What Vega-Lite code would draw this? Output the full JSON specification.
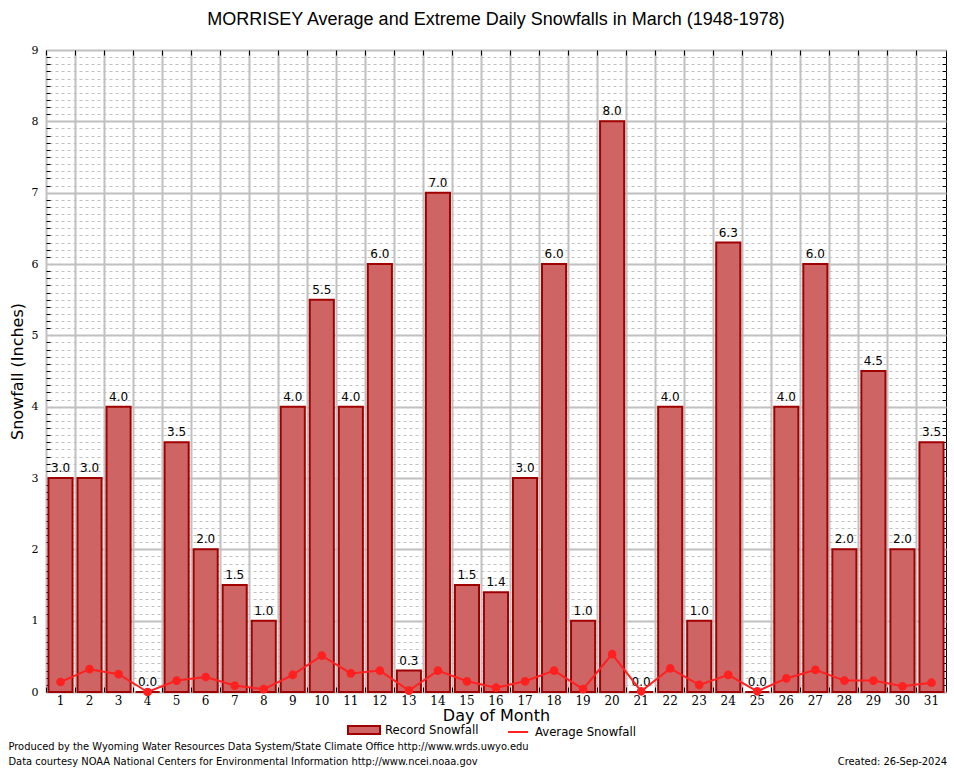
{
  "$schema": "https://vega.github.io/schema/vega-lite/v6.json",
  "padding": {"left": 8, "top": 10, "right": 8, "bottom": 0},
  "background": "white",
  "config": {
    "font": "DejaVu Sans",
    "view": {"stroke": "black", "strokeWidth": 1},
    "concat": {"spacing": 0},
    "title": {"lineHeight": 15},
    "legend": {"layout": {"bottom": {"anchor": "middle", "direction": "horizontal", "margin": 28}}}
  },
  "title": {"text": "Created: 26-Sep-2024", "orient": "bottom", "anchor": "end", "fontSize": 11, "fontWeight": "normal", "font": "DejaVu Sans Condensed", "color": "black", "dy": -11, "offset": 0},
  "resolve": {"scale": {"fill": "independent", "stroke": "independent"}},
  "vconcat": [
    {
      "title": {"text": ["Produced by the Wyoming Water Resources Data System/State Climate Office http://www.wrds.uwyo.edu", "Data courtesy NOAA National Centers for Environmental Information http://www.ncei.noaa.gov"], "orient": "bottom", "anchor": "start", "fontSize": 11, "fontWeight": "normal", "font": "DejaVu Sans Condensed", "color": "black", "offset": 1},
      "resolve": {"scale": {"fill": "independent", "stroke": "independent"}},
      "vconcat": [
        {
          "title": {"text": "MORRISEY Average and Extreme Daily Snowfalls in March (1948-1978)", "fontSize": 18, "font": "Liberation Sans", "fontWeight": "normal", "color": "black", "offset": 15},
          "width": 900,
          "height": 642,
          "data": {"values": [
            {"day": 1, "record": 3.0, "avg": 0.14},
            {"day": 2, "record": 3.0, "avg": 0.32},
            {"day": 3, "record": 4.0, "avg": 0.25},
            {"day": 4, "record": 0.0, "avg": 0.0},
            {"day": 5, "record": 3.5, "avg": 0.16},
            {"day": 6, "record": 2.0, "avg": 0.21},
            {"day": 7, "record": 1.5, "avg": 0.09},
            {"day": 8, "record": 1.0, "avg": 0.04},
            {"day": 9, "record": 4.0, "avg": 0.24},
            {"day": 10, "record": 5.5, "avg": 0.51},
            {"day": 11, "record": 4.0, "avg": 0.26},
            {"day": 12, "record": 6.0, "avg": 0.30},
            {"day": 13, "record": 0.3, "avg": 0.02},
            {"day": 14, "record": 7.0, "avg": 0.30},
            {"day": 15, "record": 1.5, "avg": 0.15},
            {"day": 16, "record": 1.4, "avg": 0.06},
            {"day": 17, "record": 3.0, "avg": 0.15},
            {"day": 18, "record": 6.0, "avg": 0.30},
            {"day": 19, "record": 1.0, "avg": 0.04},
            {"day": 20, "record": 8.0, "avg": 0.53},
            {"day": 21, "record": 0.0, "avg": 0.01},
            {"day": 22, "record": 4.0, "avg": 0.33},
            {"day": 23, "record": 1.0, "avg": 0.10},
            {"day": 24, "record": 6.3, "avg": 0.24},
            {"day": 25, "record": 0.0, "avg": 0.01},
            {"day": 26, "record": 4.0, "avg": 0.19},
            {"day": 27, "record": 6.0, "avg": 0.31},
            {"day": 28, "record": 2.0, "avg": 0.16},
            {"day": 29, "record": 4.5, "avg": 0.16},
            {"day": 30, "record": 2.0, "avg": 0.08},
            {"day": 31, "record": 3.5, "avg": 0.13}
          ]},
          "layer": [
            {
              "mark": {"type": "bar", "width": {"band": 0.83}, "stroke": "#a00000", "strokeWidth": 2},
              "encoding": {
                "x": {"field": "day", "type": "ordinal", "scale": {"paddingInner": 0, "paddingOuter": 0},
                  "axis": {"title": "Day of Month", "titleFontSize": 16, "titleFontWeight": "normal", "titleColor": "black", "titlePadding": 1,
                    "labelAngle": 0, "labelFont": "DejaVu Serif", "labelFontSize": 12, "labelColor": "black", "labelPadding": 8,
                    "ticks": true, "tickSize": -5, "tickColor": "black", "tickWidth": 1,
                    "domain": false, "grid": true, "bandPosition": 0, "gridColor": "#c0c0c0", "gridWidth": 2}},
                "y": {"field": "record", "type": "quantitative", "scale": {"domain": [0, 9], "nice": false},
                  "axis": {"title": "Snowfall (Inches)", "titleFontSize": 16, "titleFontWeight": "normal", "titleColor": "black", "titlePadding": 6,
                    "values": [0, 1, 2, 3, 4, 5, 6, 7, 8, 9], "labelFont": "DejaVu Serif", "labelFontSize": 11, "labelColor": "black", "labelPadding": 8,
                    "ticks": false, "domain": false, "grid": true, "gridColor": "#c0c0c0", "gridWidth": 2}},
                "fill": {"datum": "Record Snowfall", "type": "nominal",
                  "scale": {"range": ["#cf6464"]},
                  "legend": {"title": null, "orient": "bottom", "direction": "horizontal", "labelFontSize": 13, "labelColor": "black", "labelFont": "DejaVu Sans Condensed",
                    "labelOffset": 12,
                    "symbolType": "M-2,-0.5H2V0.5H-2Z", "symbolSize": 256, "symbolStrokeColor": "#a00000", "symbolStrokeWidth": 2, "offset": -2, "padding": 0}}
              }
            },
            {
              "mark": {"type": "text", "baseline": "bottom", "dy": -3, "fontSize": 12, "color": "black"},
              "encoding": {
                "x": {"field": "day", "type": "ordinal",
                  "axis": {"orient": "top", "title": null, "labels": false, "domain": false, "grid": false, "bandPosition": 0,
                    "ticks": true, "tickSize": -5, "tickColor": "black", "tickWidth": 1}},
                "y": {"field": "record", "type": "quantitative",
                  "axis": {"orient": "left", "title": null, "labels": false, "domain": false, "grid": false,
                    "ticks": true, "tickSize": -4, "tickColor": "black", "tickWidth": 1,
                    "values": [0.1,0.2,0.3,0.4,0.5,0.6,0.7,0.8,0.9,1.1,1.2,1.3,1.4,1.5,1.6,1.7,1.8,1.9,2.1,2.2,2.3,2.4,2.5,2.6,2.7,2.8,2.9,3.1,3.2,3.3,3.4,3.5,3.6,3.7,3.8,3.9,4.1,4.2,4.3,4.4,4.5,4.6,4.7,4.8,4.9,5.1,5.2,5.3,5.4,5.5,5.6,5.7,5.8,5.9,6.1,6.2,6.3,6.4,6.5,6.6,6.7,6.8,6.9,7.1,7.2,7.3,7.4,7.5,7.6,7.7,7.8,7.9,8.1,8.2,8.3,8.4,8.5,8.6,8.7,8.8,8.9]}},
                "text": {"field": "record", "type": "quantitative", "format": ".1f"}
              }
            },
            {
              "mark": {"type": "line", "color": "#ff2020", "strokeWidth": 2, "point": {"filled": true, "size": 45, "color": "#ff2020"}},
              "encoding": {
                "x": {"field": "day", "type": "ordinal", "axis": null},
                "y": {"field": "avg", "type": "quantitative",
                  "axis": {"orient": "right", "title": null, "labels": false, "domain": false, "grid": true, "gridColor": "#c0c0c0", "gridDash": [3, 3], "gridWidth": 1,
                    "ticks": true, "tickSize": -4, "tickColor": "black", "tickWidth": 1,
                    "values": [0.1,0.2,0.3,0.4,0.5,0.6,0.7,0.8,0.9,1.1,1.2,1.3,1.4,1.5,1.6,1.7,1.8,1.9,2.1,2.2,2.3,2.4,2.5,2.6,2.7,2.8,2.9,3.1,3.2,3.3,3.4,3.5,3.6,3.7,3.8,3.9,4.1,4.2,4.3,4.4,4.5,4.6,4.7,4.8,4.9,5.1,5.2,5.3,5.4,5.5,5.6,5.7,5.8,5.9,6.1,6.2,6.3,6.4,6.5,6.6,6.7,6.8,6.9,7.1,7.2,7.3,7.4,7.5,7.6,7.7,7.8,7.9,8.1,8.2,8.3,8.4,8.5,8.6,8.7,8.8,8.9]}},
                "stroke": {"datum": "Average Snowfall", "type": "nominal",
                  "scale": {"range": ["#ff2020"]},
                  "legend": {"title": null, "orient": "bottom", "direction": "horizontal", "labelFontSize": 13, "labelColor": "black", "labelFont": "DejaVu Sans Condensed",
                    "labelOffset": 6,
                    "symbolType": "stroke", "symbolStrokeWidth": 2, "symbolSize": 400, "offset": -2, "padding": 0}}
              }
            }
          ],
          "resolve": {"axis": {"x": "independent", "y": "independent"}}
        }
      ]
    }
  ]
}
